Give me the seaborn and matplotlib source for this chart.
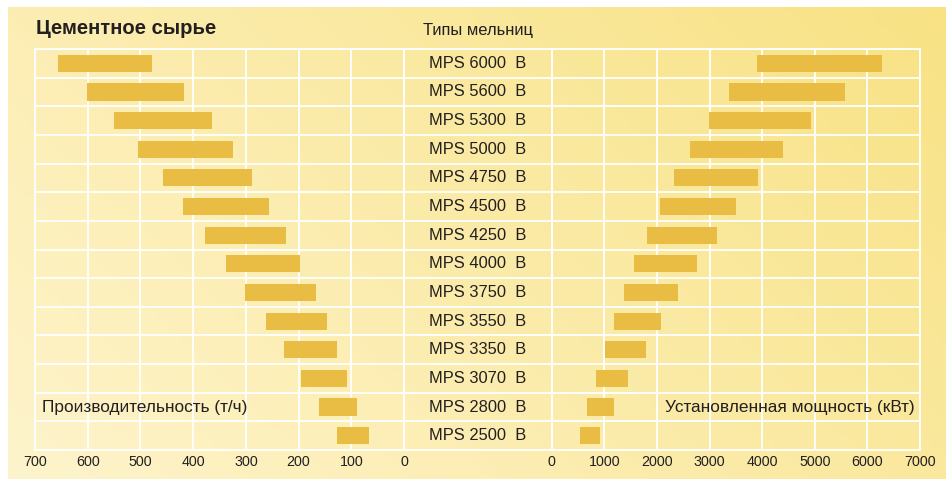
import numpy as np
import pandas as pd
import matplotlib
matplotlib.use("Agg")
import matplotlib.pyplot as plt
import matplotlib.transforms as mtransforms
import seaborn as sns

# ---- данные ----
mills = ["MPS 6000  B", "MPS 5600  B", "MPS 5300  B", "MPS 5000  B",
         "MPS 4750  B", "MPS 4500  B", "MPS 4250  B", "MPS 4000  B",
         "MPS 3750  B", "MPS 3550  B", "MPS 3350  B", "MPS 3070  B",
         "MPS 2800  B", "MPS 2500  B"]
throughput_min = [478, 417, 364, 324, 288, 256, 224, 197, 167, 146, 127, 108, 89, 66]
throughput_max = [656, 601, 550, 505, 457, 419, 378, 338, 302, 262, 228, 195, 161, 127]
power_min = [3900, 3370, 2990, 2630, 2325, 2060, 1810, 1565, 1375, 1185, 1015, 840, 670, 540]
power_max = [6280, 5575, 4930, 4400, 3920, 3505, 3145, 2765, 2400, 2080, 1795, 1450, 1185, 920]
throughput_ticks = [0, 100, 200, 300, 400, 500, 600, 700]
power_ticks = [0, 1000, 2000, 3000, 4000, 5000, 6000, 7000]

title = "Цементное сырье"
center_title = "Типы мельниц"
left_label = "Производительность (т/ч)"
right_label = "Установленная мощность (кВт)"

BAR = "#e9bd43"
TXT = "#231f20"
GRID = "white"

sns.set_theme(style="white")
plt.rcParams["font.family"] = ["Liberation Sans", "DejaVu Sans"]

W, H = 950, 479
fig = plt.figure(figsize=(W / 100, H / 100), dpi=100)
fig.patch.set_facecolor("white")

# фон с диагональным градиентом
bg = fig.add_axes([8 / W, 0, (946 - 8) / W, (H - 7) / H], zorder=-10)
gx, gy = np.meshgrid(np.linspace(0, 1, 300), np.linspace(1, 0, 150))
t = np.clip(0.65 * gx + 0.35 * gy, 0, 1)[..., None]
c0 = np.array([254, 244, 204]) / 255
c1 = np.array([248, 226, 132]) / 255
bg.imshow(c0 * (1 - t) + c1 * t, aspect="auto", extent=[0, 1, 0, 1])
bg.set_axis_off()

y0, y1 = 49, 450
bottom = (H - y1) / H
height = (y1 - y0) / H
x_l0, x_l1, x_r0, x_r1 = 35, 404, 551.7, 920

ax_l = fig.add_axes([x_l0 / W, bottom, (x_l1 - x_l0) / W, height])
ax_c = fig.add_axes([x_l1 / W, bottom, (x_r0 - x_l1) / W, height])
ax_r = fig.add_axes([x_r0 / W, bottom, (x_r1 - x_r0) / W, height])

n = len(mills)


def floating_bars(ax, lo, hi):
    df = pd.DataFrame({"mill": mills, "span": np.array(hi) - np.array(lo)})
    sns.barplot(data=df, x="span", y="mill", orient="h", color=BAR,
                saturation=1, width=0.6, ax=ax)
    for patch, start in zip(ax.patches, lo):
        patch.set_x(start)
        patch.set_edgecolor("none")


floating_bars(ax_l, throughput_min, throughput_max)
floating_bars(ax_r, power_min, power_max)

for ax in (ax_l, ax_c, ax_r):
    ax.set_facecolor("none")
    ax.set_axisbelow(True)
    ax.set_ylim(n - 0.5, -0.5)
    ax.set_yticks(range(n))
    ax.set_yticklabels([])
    ax.set_yticks(np.arange(-0.5, n, 1), minor=True)
    ax.grid(which="minor", axis="y", color=GRID, lw=1.3)
    ax.grid(which="major", axis="x", color=GRID, lw=1.3)
    ax.set_xlabel("")
    ax.set_ylabel("")
    for s in ax.spines.values():
        s.set_color(GRID)
        s.set_linewidth(1.3)
    ax.tick_params(length=0, labelsize=10.3, colors=TXT, pad=3.5)

ax_l.set_xlim(700, 0)
ax_l.set_xticks(throughput_ticks)
ax_r.set_xlim(0, 7000)
ax_r.set_xticks(power_ticks)

ax_c.set_xlim(0, 1)
ax_c.set_xticks([])
for i, name in enumerate(mills):
    ax_c.text(0.5, i, name, ha="center", va="center", fontsize=11.9, color=TXT)

fig.text(36 / W, 1 - 28 / H, title, ha="left", va="center",
         fontsize=14.6, fontweight="bold", color=TXT)
fig.text(478 / W, 1 - 30 / H, center_title, ha="center", va="center",
         fontsize=11.9, color=TXT)

row = mills.index("MPS 2800  B")
ax_l.text(42 / W, row, left_label, ha="left", va="center", fontsize=12.4,
          color=TXT, transform=mtransforms.blended_transform_factory(fig.transFigure, ax_l.transData))
ax_r.text(915 / W, row, right_label, ha="right", va="center", fontsize=12.4,
          color=TXT, transform=mtransforms.blended_transform_factory(fig.transFigure, ax_r.transData))

fig.savefig("out.png", dpi=100)
